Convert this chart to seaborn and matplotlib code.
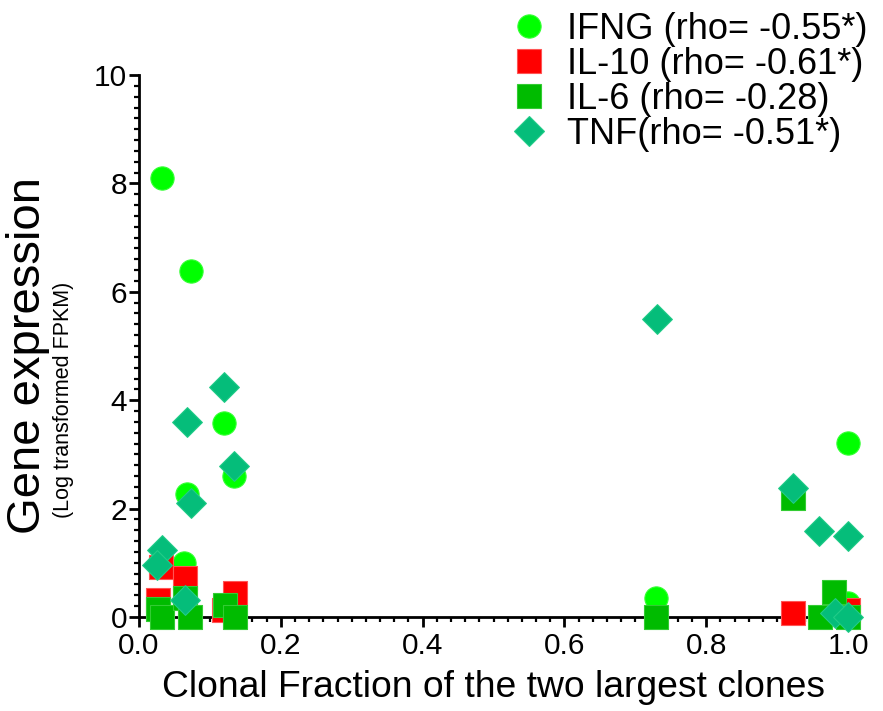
import matplotlib
matplotlib.use("Agg")
import matplotlib.pyplot as plt
import seaborn as sns
import pandas as pd
from matplotlib.ticker import MultipleLocator
from matplotlib.lines import Line2D

# ---- data ----
ifng_x = [0.032, 0.073, 0.120, 0.134, 0.068, 0.063, 0.030, 0.729, 1.000, 1.000]
ifng_y = [8.10, 6.38, 3.58, 2.60, 2.27, 0.99, 1.00, 0.35, 3.21, 0.26]

il10_x = [0.027, 0.031, 0.065, 0.135, 0.120, 0.922, 1.000]
il10_y = [0.31, 0.92, 0.72, 0.44, 0.12, 0.07, 0.12]

il6_x = [0.027, 0.032, 0.065, 0.072, 0.121, 0.135, 0.729, 0.922, 0.980, 0.960, 1.000]
il6_y = [0.15, 0.00, 0.35, 0.00, 0.22, 0.00, 0.00, 2.19, 0.46, 0.00, 0.00]

tnf_x = [0.032, 0.025, 0.065, 0.068, 0.120, 0.134, 0.073, 0.731, 0.922, 0.959, 1.000, 0.982, 1.000]
tnf_y = [1.24, 0.96, 0.31, 3.60, 4.24, 2.79, 2.10, 5.50, 2.38, 1.59, 1.49, 0.07, 0.00]

labels = ["IFNG (rho= -0.55*)", "IL-10 (rho= -0.61*)", "IL-6 (rho= -0.28)", "TNF(rho= -0.51*)"]
colors = ["#00FF00", "#FF0000", "#00BB00", "#05BD7A"]
edges = ["#33FF33", "#FF5555", "#33CC33", "#22CC88"]
markers = ["o", "s", "s", "D"]
sizes = [280, 290, 290, 230]

xlabel = "Clonal Fraction of the two largest clones"
ylabel = "Gene expression"
ysub = "(Log transformed FPKM)"

sns.set_style("ticks")
plt.rcParams["font.family"] = ["Liberation Sans", "DejaVu Sans"]
plt.rcParams["text.color"] = "black"
plt.rcParams["axes.labelcolor"] = "black"

fig = plt.figure(figsize=(8.83, 7.11), dpi=100)
ax = fig.add_axes([139 / 883, 1 - 617 / 711, (848 - 139) / 883, (617 - 75) / 711])

series = [(ifng_x, ifng_y), (il10_x, il10_y), (il6_x, il6_y), (tnf_x, tnf_y)]
for i, (xs, ys) in enumerate(series):
    df = pd.DataFrame({"x": xs, "y": ys})
    sns.scatterplot(data=df, x="x", y="y", ax=ax, marker=markers[i], s=sizes[i],
                    color=colors[i], edgecolor=edges[i], linewidth=0.8,
                    clip_on=False, zorder=3 + i, legend=False)

ax.set_xlim(0, 1.0)
ax.set_ylim(0, 10)
ax.xaxis.set_minor_locator(MultipleLocator(0.02))
ax.yaxis.set_minor_locator(MultipleLocator(0.2))
ax.set_xticks([0, 0.2, 0.4, 0.6, 0.8, 1.0])
ax.set_xticklabels(["0.0", "0.2", "0.4", "0.6", "0.8", "1.0"])
ax.set_yticks([0, 2, 4, 6, 8, 10])
ax.set_yticklabels(["0", "2", "4", "6", "8", "10"])

for sp in ["top", "right"]:
    ax.spines[sp].set_visible(False)
for sp in ["left", "bottom"]:
    ax.spines[sp].set_linewidth(2.0)
    ax.spines[sp].set_color("black")

ax.tick_params(which="major", direction="out", length=7, width=2.0, labelsize=21.5,
               colors="black", labelcolor="black")
ax.tick_params(which="minor", direction="out", length=3.5, width=1.6, colors="black")
ax.tick_params(axis="y", which="major", pad=1.5)
ax.tick_params(axis="x", which="major", pad=4)

ax.set_xlabel(xlabel, fontsize=26.8, labelpad=7, color="black")
ax.set_ylabel("")
fig.text(28 / 883, 1 - 356 / 711, ylabel, rotation=90, fontsize=34,
         ha="center", va="center", color="black")
fig.text(63 / 883, 1 - 400 / 711, ysub, rotation=90, fontsize=15.5,
         ha="center", va="center", color="black")

handles = [Line2D([0], [0], marker=markers[i], linestyle="none",
                  markerfacecolor=colors[i], markeredgecolor=edges[i],
                  markersize=(sizes[i] ** 0.5), markeredgewidth=0.8)
           for i in range(4)]
leg = ax.legend(handles, labels, loc="upper left",
                bbox_to_anchor=(511 / 883, 1 - 12 / 711), bbox_transform=fig.transFigure,
                frameon=False, fontsize=26, handlelength=1.0, handletextpad=0.55,
                labelspacing=0.0, borderpad=0.0, borderaxespad=0.0)
for t in leg.get_texts():
    t.set_color("black")

fig.savefig("out.png", dpi=100)
